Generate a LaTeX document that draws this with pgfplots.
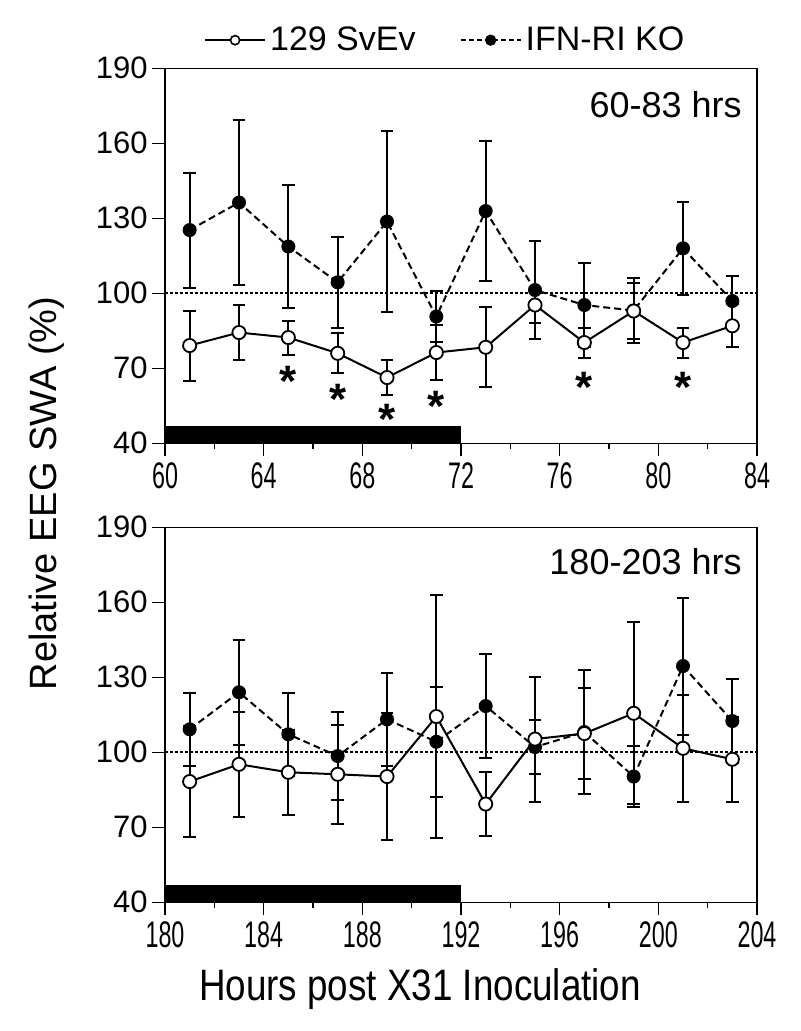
\documentclass[border=0pt]{standalone}
\usepackage{fontspec}
\setmainfont{Liberation Sans}
\usepackage{graphicx}
\usepackage{pgfplots}
\pgfplotsset{compat=1.18}

\pgfplotstableread{
x y e
61 79.1 14
63 84.3 11
65 82.3 6.8
67 76.0 8
69 66.3 7
71 76.3 11
73 78.4 16
75 95.3 7.3
77 80.3 6
79 92.9 11.3
81 80.3 6
83 87.0 8.6
}\topwt
\pgfplotstableread{
x y e
61 125.3 23
63 136.3 33
65 118.7 24.6
67 104.4 18.2
69 128.7 36.2
71 90.7 10.3
73 132.9 27.9
75 101.3 19.5
77 95.3 16.7
79 93.1 13
81 118.0 18.5
83 96.9 10
}\topko
\pgfplotstableread{
x y e
181 88.3 22.3
183 95.2 21
185 92.0 17.1
187 91.2 19.7
189 90.3 25.4
191 114.3 48.6
193 79.3 12.9
195 105.3 25
197 107.5 18.2
199 115.6 36.4
201 101.6 21.3
203 97.2 16.9
}\botwt
\pgfplotstableread{
x y e
181 109.2 14.6
183 124.0 21
185 107.2 16.6
187 98.5 17.5
189 113.2 18.7
191 104.2 22
193 118.5 20.7
195 102.1 10.8
197 108.1 24.8
199 90.3 12.3
201 134.5 27.4
203 112.5 16.7
}\botko

\pgfplotsset{
  panel/.style={
    scale only axis, width=296pt, height=187.5pt,
    ymin=40, ymax=190, ytick={40,70,...,190},
    tick align=outside, tick pos=left,
    minor x tick num=1,
    major tick length=6.5pt, minor tick length=3pt,
    axis line style={line width=0.75pt},
    every tick/.style={black, line width=0.75pt},
    /pgf/number format/assume math mode=true,
    yticklabel style={font=\fontsize{15.5}{18}\selectfont, inner sep=2pt},
    xticklabel style={font=\fontsize{18.5}{20}\selectfont, inner sep=3pt},
    xticklabel={\scalebox{0.63}[1]{\pgfmathprintnumber{\tick}}},
    clip=false,
  },
  ebars/.style={
    error bars/y dir=both, error bars/y explicit,
    error bars/error bar style={line width=1pt, solid},
    error bars/error mark options={rotate=90, mark size=3.2pt, line width=1pt, solid}},
  wt/.style={black, line width=1pt, solid, mark=*, mark size=3.3pt,
    mark options={fill=white, draw=black, solid, line width=0.9pt}, ebars},
  ko/.style={black, line width=1pt, dash pattern=on 3.5pt off 2pt, mark=*, mark size=3pt,
    mark options={fill=black, draw=black, solid}, ebars},
  refline/.style={black, line width=0.8pt, dash pattern=on 1.4pt off 1.1pt},
}

\begin{document}
\begin{tikzpicture}
\useasboundingbox (0,0) rectangle (400pt,515.5pt);

% top panel
\begin{axis}[panel, at={(82.5pt,293.85pt)}, anchor=south west,
  xmin=60, xmax=84, xtick={60,64,...,84},
  legend style={at={(rel axis cs:0.475,1.075)}, anchor=center, draw=none, fill=none,
    font=\fontsize{17}{20}\selectfont, legend columns=2,
    /tikz/every even column/.append style={column sep=20pt}},
  legend image code/.code={\draw[mark repeat=2, mark phase=2, #1] plot coordinates {(0pt,0pt) (15pt,0pt) (30pt,0pt)};},
]
\addlegendimage{black, line width=1pt, solid, mark=*, mark size=2.3pt, mark options={fill=white, draw=black, solid, line width=0.8pt}}
\addlegendentry{129 SvEv}
\addlegendimage{black, line width=1pt, dash pattern=on 2.5pt off 1.5pt, mark=*, mark size=2.3pt, mark options={fill=black, solid}}
\addlegendentry{IFN-RI KO}
\addplot[forget plot, fill=black, draw=none] coordinates {(60,40) (60,47) (72,47) (72,40)} -- cycle;
\addplot[forget plot, refline] coordinates {(60,100) (84,100)};
\addplot[forget plot, ko] table[x=x, y=y, y error=e] {\topko};
\addplot[forget plot, wt] table[x=x, y=y, y error=e] {\topwt};
\addplot[forget plot, draw=none, mark=none, nodes near coords={*},
  nodes near coords style={anchor=center, inner sep=0pt, font=\bfseries\fontsize{22}{22}\selectfont}]
  coordinates {(65,64.8) (67,57.5) (69,49.5) (71,54.8) (77,62.2) (81,62.2)};
\node[anchor=north east, inner sep=0pt, font=\fontsize{18}{20}\selectfont]
  at ([xshift=-7.5pt, yshift=-11.5pt]rel axis cs:1,1) {60-83 hrs};
\end{axis}

% bottom panel
\begin{axis}[panel, at={(82.5pt,64.35pt)}, anchor=south west,
  xmin=180, xmax=204, xtick={180,184,...,204}]
\addplot[fill=black, draw=none] coordinates {(180,40) (180,47) (192,47) (192,40)} -- cycle;
\addplot[refline] coordinates {(180,100) (204,100)};
\addplot[ko] table[x=x, y=y, y error=e] {\botko};
\addplot[wt] table[x=x, y=y, y error=e] {\botwt};
\node[anchor=north east, inner sep=0pt, font=\fontsize{18}{20}\selectfont]
  at ([xshift=-7.5pt, yshift=-10.5pt]rel axis cs:1,1) {180-203 hrs};
\end{axis}

\node[rotate=90, font=\fontsize{19}{22}\selectfont] at (23.5pt,268.75pt) {Relative EEG SWA (\%)};
\node[font=\fontsize{20}{22}\selectfont] at (210pt,21pt) {\scalebox{0.92}[1.1]{Hours post X31 Inoculation}};
\end{tikzpicture}
\end{document}
